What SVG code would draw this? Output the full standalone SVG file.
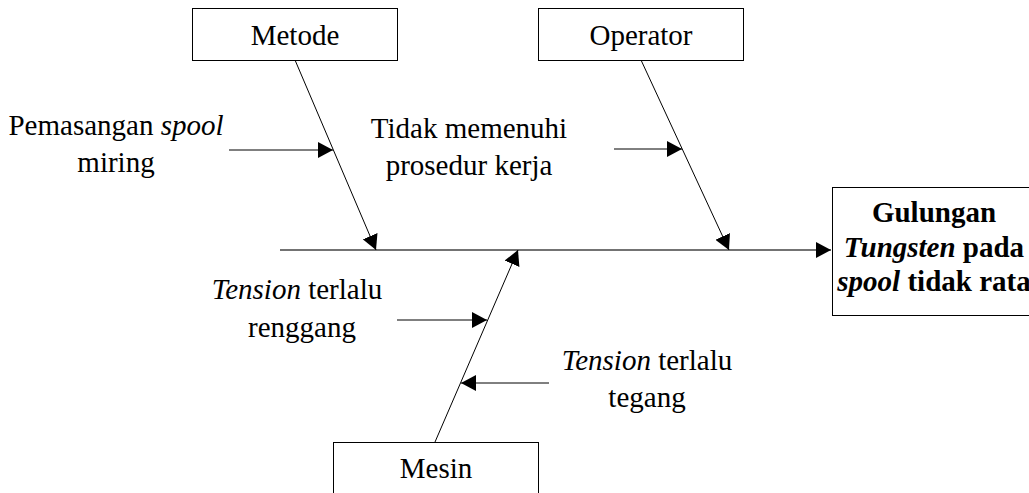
<svg xmlns="http://www.w3.org/2000/svg" width="1029" height="493" viewBox="0 0 1029 493">
<style>
.box{fill:#fff;stroke:#000;stroke-width:1}
.t{font-size:29px;fill:#000;text-anchor:middle}
.b{font-weight:bold}
.i{font-style:italic}
.ln{stroke:#000;stroke-width:1;fill:none}
.main{stroke:#444;stroke-width:1.5;fill:none}
</style>
<defs>
<marker id="ah" markerUnits="userSpaceOnUse" markerWidth="15" markerHeight="16" refX="15" refY="8" orient="auto">
<path d="M0,0 L15,8 L0,16 z" fill="#000"/>
</marker>
</defs>
<rect width="1029" height="493" fill="#fff"/>
<g id="connectors">
<line class="main" x1="280" y1="250" x2="831" y2="250" marker-end="url(#ah)"/>
<line class="ln" x1="295" y1="60" x2="376" y2="250" marker-end="url(#ah)"/>
<line class="ln" x1="641" y1="60" x2="729" y2="250" marker-end="url(#ah)"/>
<line class="ln" x1="435" y1="442" x2="518" y2="250" marker-end="url(#ah)"/>
<line class="ln" x1="229" y1="150" x2="333" y2="150" marker-end="url(#ah)"/>
<line class="ln" x1="614" y1="149" x2="682" y2="149" marker-end="url(#ah)"/>
<line class="ln" x1="397" y1="320" x2="487" y2="320" marker-end="url(#ah)"/>
<line class="ln" x1="549" y1="383" x2="461" y2="383" marker-end="url(#ah)"/>
</g>
<g font-family="'Liberation Serif', 'DejaVu Serif', serif">
<g id="metode">
<rect class="box" x="192.5" y="8.5" width="205" height="52"/>
<text class="t" x="295" y="45">Metode</text>
</g>
<g id="operator">
<rect class="box" x="538.5" y="8.5" width="205" height="52"/>
<text class="t" x="641" y="45">Operator</text>
</g>
<g id="mesin">
<rect class="box" x="333.5" y="442.5" width="205" height="60"/>
<text class="t" x="436" y="478">Mesin</text>
</g>
<g id="effect">
<rect class="box" x="832.5" y="187.5" width="205" height="128"/>
<text class="t b" x="934" y="222">Gulungan</text>
<text class="t b" x="934" y="257"><tspan class="i">Tungsten</tspan> pada</text>
<text class="t b" x="934" y="291"><tspan class="i">spool</tspan> tidak rata</text>
</g>
<g id="cause-metode">
<text class="t" x="116" y="135">Pemasangan <tspan class="i">spool</tspan></text>
<text class="t" x="116" y="172">miring</text>
</g>
<g id="cause-operator">
<text class="t" x="469" y="138">Tidak memenuhi</text>
<text class="t" x="469" y="175">prosedur kerja</text>
</g>
<g id="cause-mesin-1">
<text class="t" x="297" y="299"><tspan class="i">Tension</tspan> terlalu</text>
<text class="t" x="302" y="337">renggang</text>
</g>
<g id="cause-mesin-2">
<text class="t" x="647" y="370"><tspan class="i">Tension</tspan> terlalu</text>
<text class="t" x="647" y="407">tegang</text>
</g>
</g>
</svg>
